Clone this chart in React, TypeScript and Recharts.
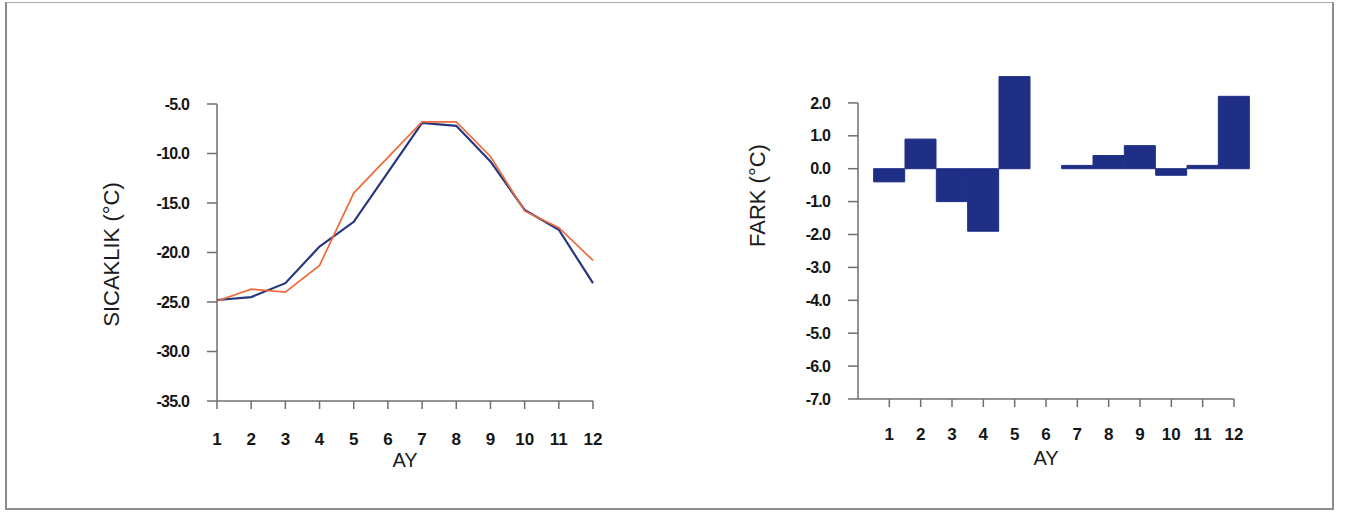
import { LineChart, Line, BarChart, Bar, XAxis, YAxis, ReferenceLine } from "recharts"

const MONTHS = [1, 2, 3, 4, 5, 6, 7, 8, 9, 10, 11, 12]
const SERIES_BLUE = [-24.8, -24.5, -23.1, -19.4, -16.9, -11.9, -6.9, -7.2, -10.8, -15.7, -17.7, -23.1]
const SERIES_ORANGE = [-24.9, -23.7, -24.0, -21.3, -14.0, -10.4, -6.8, -6.8, -10.3, -15.8, -17.5, -20.8]
const FARK = [-0.4, 0.9, -1.0, -1.9, 2.8, null, 0.1, 0.4, 0.7, -0.2, 0.1, 2.2]

const TEMP_TICKS = [-35, -30, -25, -20, -15, -10, -5]
const FARK_TICKS = [-7, -6, -5, -4, -3, -2, -1, 0, 1, 2]

const FONT = "'Liberation Sans', Arial, sans-serif"
const AXIS = "#6f6f6f"
const xTickStyle = { fontSize: 17, fill: "#151515", fontFamily: FONT, fontWeight: 700 }
const yTickStyle = { fontSize: 16, fill: "#151515", fontFamily: FONT, fontWeight: 700, letterSpacing: -0.8 }

const lineData = MONTHS.map((m, i) => ({ ay: m, blue: SERIES_BLUE[i], orange: SERIES_ORANGE[i] }))
const barData = MONTHS.map((m, i) => ({ ay: m, fark: FARK[i] }))

const fmt = (v: number) => v.toFixed(1)

const yTitle = (text: string, x: number, dy: number) => (props: any) => {
    const vb = props.viewBox || {}
    const cy = (vb.y ?? 0) + (vb.height ?? 0) / 2 + dy
    return (
        <text
            x={x}
            y={cy}
            transform={`rotate(-90, ${x}, ${cy})`}
            textAnchor="middle"
            dominantBaseline="central"
            style={{ fontSize: 22, fill: "#1c1c1c", fontFamily: FONT }}
        >
            {text}
        </text>
    )
}

const xTitle = (text: string, y: number) => (props: any) => {
    const vb = props.viewBox || {}
    const cx = (vb.x ?? 0) + (vb.width ?? 0) / 2
    return (
        <text
            x={cx}
            y={y}
            textAnchor="middle"
            dominantBaseline="central"
            style={{ fontSize: 20, fill: "#1c1c1c", fontFamily: FONT }}
        >
            {text}
        </text>
    )
}

export default function App() {
    return (
        <div style={{ position: "absolute", left: 0, top: 0, width: 1347, height: 513, background: "#fff", fontFamily: FONT }}>
            <div
                style={{
                    position: "absolute",
                    left: 5,
                    top: 2,
                    width: 1325,
                    height: 505,
                    borderLeft: "2px solid #8c8c8c",
                    borderRight: "2px solid #8c8c8c",
                    borderBottom: "2px solid #8c8c8c",
                    borderTop: "1px solid #a8a8a8",
                }}
            />
            <div style={{ position: "absolute", left: 0, top: 0 }}>
                <LineChart width={650} height={513} data={lineData} margin={{ top: 104, right: 57, bottom: 52, left: 117 }}>
                    <XAxis
                        dataKey="ay"
                        type="number"
                        domain={[1, 12]}
                        ticks={MONTHS}
                        height={60}
                        tickSize={8}
                        tickMargin={24}
                        stroke={AXIS}
                        strokeWidth={1.5}
                        tick={xTickStyle}
                        label={xTitle("AY", 460)}
                    />
                    <YAxis
                        type="number"
                        domain={[-35, -5]}
                        ticks={TEMP_TICKS}
                        width={100}
                        tickSize={10}
                        tickMargin={18}
                        tickFormatter={fmt}
                        stroke={AXIS}
                        strokeWidth={1.5}
                        tick={yTickStyle}
                        label={yTitle("SICAKLIK (°C)", 111, 2)}
                    />
                    <Line dataKey="blue" stroke="#26377f" strokeWidth={2.2} dot={false} isAnimationActive={false} />
                    <Line dataKey="orange" stroke="#ee6a3c" strokeWidth={1.7} dot={false} isAnimationActive={false} />
                </LineChart>
            </div>
            <div style={{ position: "absolute", left: 700, top: 0 }}>
                <BarChart
                    width={620}
                    height={513}
                    data={barData}
                    margin={{ top: 70, right: 86, bottom: 54, left: 58 }}
                    barGap={0}
                    barCategoryGap={0}
                >
                    <XAxis
                        dataKey="ay"
                        type="number"
                        domain={[0, 12]}
                        ticks={MONTHS}
                        height={60}
                        tickSize={8}
                        tickMargin={21}
                        stroke={AXIS}
                        strokeWidth={1.5}
                        tick={xTickStyle}
                        label={xTitle("AY", 458)}
                    />
                    <YAxis
                        type="number"
                        domain={[-7, 3]}
                        ticks={FARK_TICKS}
                        width={100}
                        tickSize={10}
                        tickMargin={18}
                        tickFormatter={fmt}
                        axisLine={false}
                        stroke={AXIS}
                        tickLine={{ stroke: AXIS, strokeWidth: 1.5 }}
                        tick={yTickStyle}
                        label={yTitle("FARK (°C)", 57, -39)}
                    />
                    <ReferenceLine
                        segment={[{ x: 0, y: -7 }, { x: 0, y: 2 }]}
                        stroke={AXIS}
                        strokeWidth={1.5}
                    />
                    <Bar dataKey="fark" fill="#1f2f86" stroke="#1f2f86" strokeWidth={1} barSize={31} isAnimationActive={false} />
                </BarChart>
            </div>
        </div>
    )
}
